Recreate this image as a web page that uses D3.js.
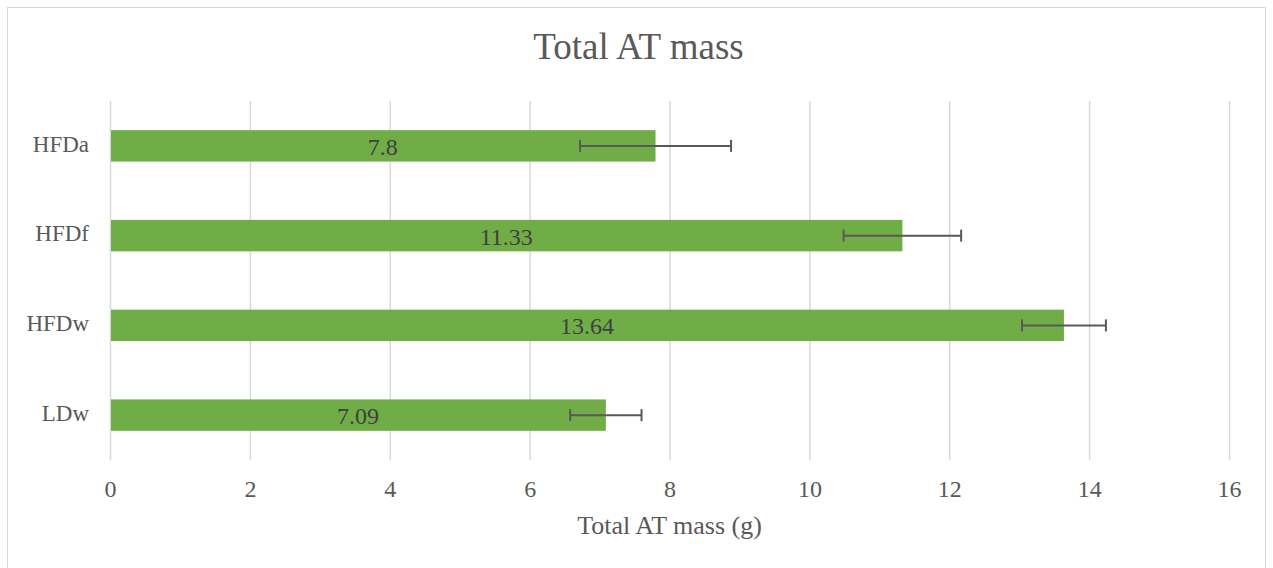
<!DOCTYPE html>
<html lang="en">
<head>
<meta charset="UTF-8">
<title>Total AT mass</title>
<script src="https://d3js.org/d3.v7.min.js"></script>
<style>
  body { margin: 0; background: #fff; }
  svg text { font-family: "Liberation Serif", "Times New Roman", serif; }
</style>
</head>
<body>
<svg id="chart"></svg>
<script>
  // data
  categories = ["HFDa", "HFDf", "HFDw", "LDw"];
  values = [7.8, 11.33, 13.64, 7.09];
  errors = [1.08, 0.84, 0.6, 0.51];
  labels = ["7.8", "11.33", "13.64", "7.09"];
  xTicks = [0, 2, 4, 6, 8, 10, 12, 14, 16];

  width = 1273;
  height = 568;
  margin = {top: 101, right: 44, bottom: 108, left: 110};
  serif = "'Liberation Serif', 'Times New Roman', serif";

  svg = d3.select("#chart")
      .attr("width", width)
      .attr("height", height)
      .attr("font-family", serif);

  // chart frame
  svg.append("rect")
      .attr("x", 7.5).attr("y", 7.5)
      .attr("width", width - 15).attr("height", height + 10)
      .attr("fill", "none")
      .attr("stroke", "#d9d9d9");

  xScale = d3.scaleLinear()
      .domain([0, 16])
      .range([margin.left, width - margin.right]);

  yScale = d3.scaleBand()
      .domain(categories)
      .range([margin.top, height - margin.bottom])
      .paddingInner(0.65)
      .paddingOuter(0.325);

  // vertical gridlines
  svg.append("g")
      .selectAll("line")
      .data(xTicks)
      .join("line")
      .attr("x1", d => xScale(d) + 0.5)
      .attr("x2", d => xScale(d) + 0.5)
      .attr("y1", margin.top)
      .attr("y2", height - margin.bottom)
      .attr("stroke", "#d9d9d9")
      .attr("stroke-width", 1.5);

  // x axis labels
  xAxis = d3.axisBottom(xScale).tickValues(xTicks).tickSize(0).tickPadding(20);
  gx = svg.append("g")
      .attr("transform", `translate(0,${height - margin.bottom})`)
      .call(xAxis)
      .attr("font-family", serif)
      .attr("font-size", 24);
  gx.select(".domain").remove();
  gx.selectAll("text").attr("fill", "#595959");

  // y axis labels
  yAxis = d3.axisLeft(yScale).tickSize(0).tickPadding(21);
  gy = svg.append("g")
      .attr("transform", `translate(${margin.left},0)`)
      .call(yAxis)
      .attr("font-family", serif)
      .attr("font-size", 23);
  gy.select(".domain").remove();
  gy.selectAll("text").attr("fill", "#595959").attr("dy", "0.25em");

  // bars
  svg.append("g")
      .selectAll("rect")
      .data(categories)
      .join("rect")
      .attr("x", xScale(0) + 1)
      .attr("y", d => yScale(d))
      .attr("width", (d, i) => xScale(values[i]) - xScale(0) - 1)
      .attr("height", yScale.bandwidth())
      .attr("fill", "#70ad47");

  // error bars
  errG = svg.append("g")
      .attr("stroke", "#595959")
      .attr("stroke-width", 2);
  categories.forEach((c, i) => {
      let cy = yScale(c) + yScale.bandwidth() / 2;
      let lo = xScale(values[i] - errors[i]);
      let hi = xScale(values[i] + errors[i]);
      errG.append("line").attr("x1", lo).attr("x2", hi).attr("y1", cy).attr("y2", cy);
      errG.append("line").attr("x1", lo).attr("x2", lo).attr("y1", cy - 6).attr("y2", cy + 6);
      errG.append("line").attr("x1", hi).attr("x2", hi).attr("y1", cy - 6).attr("y2", cy + 6);
  });

  // data labels
  svg.append("g")
      .selectAll("text")
      .data(categories)
      .join("text")
      .attr("x", (d, i) => (xScale(0) + xScale(values[i])) / 2)
      .attr("y", d => yScale(d) + yScale.bandwidth() / 2)
      .attr("dy", "0.37em")
      .attr("text-anchor", "middle")
      .attr("font-size", 24)
      .attr("fill", "#404040")
      .text((d, i) => labels[i]);

  // title
  svg.append("text")
      .attr("x", width / 2 + 2)
      .attr("y", 59)
      .attr("text-anchor", "middle")
      .attr("font-size", 37)
      .attr("fill", "#595959")
      .text("Total AT mass");

  // axis title
  svg.append("text")
      .attr("x", (xScale(0) + xScale(16)) / 2)
      .attr("y", 534)
      .attr("text-anchor", "middle")
      .attr("font-size", 26)
      .attr("fill", "#595959")
      .text("Total AT mass (g)");
</script>
</body>
</html>
